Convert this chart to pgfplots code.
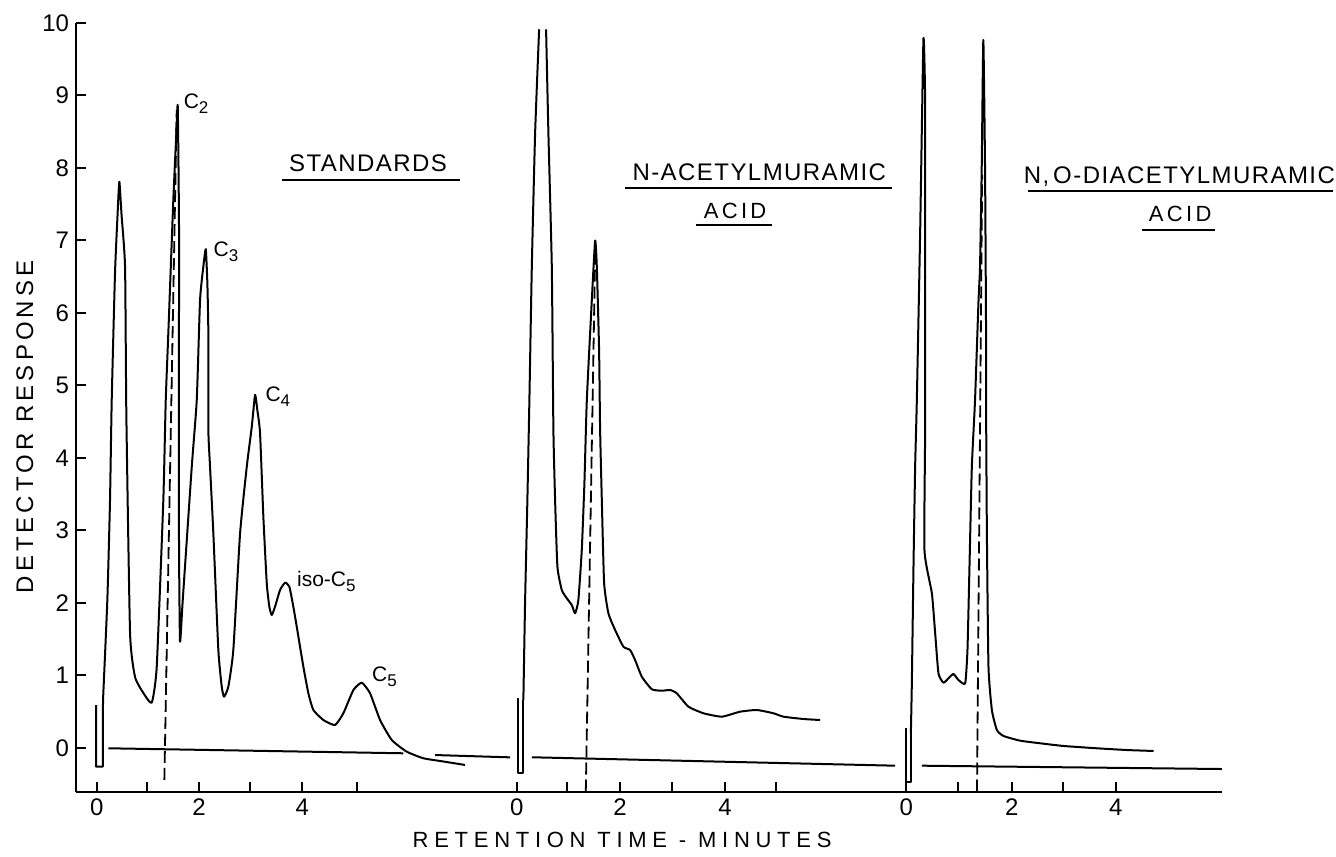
\documentclass[border=0pt]{standalone}
\usepackage{fontspec}
\setmainfont{Liberation Sans}
\newfontfamily\titlefont[LetterSpace=6]{Liberation Sans}
\newfontfamily\acidfont[LetterSpace=15]{Liberation Sans}
\newfontfamily\xlabfont[LetterSpace=26]{Liberation Sans}
\newfontfamily\ylabfont[LetterSpace=17]{Liberation Sans}
\usepackage{pgfplots}
\pgfplotsset{compat=1.18}
\newcommand{\pk}[2]{{\fontsize{10.5}{12}\selectfont #1\raisebox{-2.5pt}{\fontsize{8.5}{10}\selectfont #2}}}
\begin{document}
\begin{tikzpicture}
\begin{axis}[
  scale only axis, width=573pt, height=384.25pt,
  xmin=-0.4, xmax=21.85, ymin=-0.6, ymax=10,
  axis x line=bottom, axis y line=left,
  axis line style={-, line width=1pt},
  xtick={0,0.971,1.986,2.977,3.992,5.049, 8.157,9.138,10.161,11.177,12.200,13.190, 15.715,16.730,17.767,18.757,19.786},
  xticklabels={0,,2,,4,, 0,,2,,4,, 0,,2,,4},
  ytick={0,1,2,3,4,5,6,7,8,9,10},
  tick align=inside, major tick length=5pt,
  tick style={line width=1pt, black},
  /pgf/number format/assume math mode=true,
  ticklabel style={font=\fontsize{12}{14}\selectfont},
  clip=false, unbounded coords=jump,
  trace/.style={black, line width=1pt, line join=round, smooth, tension=0.3},
]
% baselines
\addplot[black, line width=1pt] coordinates {(0.225,-0.004) (5.953,-0.073)};
\addplot[black, line width=1pt] coordinates {(6.569,-0.097) (8.025,-0.129)};
\addplot[black, line width=1pt] coordinates {(8.447,-0.128) (15.501,-0.244)};
\addplot[black, line width=1pt] coordinates {(16.019,-0.244) (21.845,-0.290)};
% dashed marker lines
\addplot[black, line width=0.9pt, dash pattern=on 6pt off 2.5pt] coordinates {(1.313,-0.441) (1.553,8.80)};
\addplot[black, line width=0.9pt, dash pattern=on 6pt off 2.5pt] coordinates {(9.495,-0.600) (9.676,6.777)};
\addplot[black, line width=0.9pt, dash pattern=on 6pt off 2.5pt] coordinates {(17.090,-0.600) (17.190,7.900)};
% standards: injection spike, then trace
\addplot[black, line width=1pt, line join=round] coordinates {(-0.014,0.593) (-0.014,-0.258) (0.117,-0.258) (0.122,0.662)};
\addplot[trace] table {
x y
0.122 0.662
0.206 2.041
0.258 3.421
0.291 4.800
0.355 6.552
0.404 7.352
0.439 7.811
0.482 7.352
0.550 6.634
0.575 4.593
0.647 1.586
0.744 0.979
0.905 0.759
1.068 0.625
1.165 1.121
1.293 3.421
1.340 4.800
1.390 5.720
1.487 7.559
1.540 8.390
1.573 8.855
1.598 7.103
1.594 4.386
1.598 2.731
1.617 1.466
1.670 2.041
1.845 3.880
1.942 4.800
2.006 6.180
2.070 6.640
2.117 6.880
2.148 6.410
2.167 5.720
2.167 4.386
2.200 3.880
2.264 2.961
2.361 1.352
2.427 0.846
2.472 0.708
2.555 0.846
2.652 1.352
2.783 2.961
2.913 3.880
3.010 4.430
3.074 4.869
3.118 4.662
3.171 4.340
3.235 3.190
3.301 2.272
3.351 1.949
3.398 1.834
3.462 1.949
3.559 2.179
3.656 2.280
3.740 2.225
3.817 1.949
3.883 1.673
4.012 1.121
4.109 0.754
4.206 0.524
4.400 0.386
4.627 0.317
4.788 0.479
4.983 0.800
5.146 0.901
5.307 0.754
5.501 0.386
5.728 0.110
6.019 -0.051
6.342 -0.142
6.666 -0.179
7.151 -0.234
};
% N-acetylmuramic acid
\addplot[black, line width=1pt, line join=round] coordinates {(8.186,0.686) (8.186,-0.349) (8.283,-0.349) (8.283,0.662)};
\addplot[trace] table {
x y
8.283 0.662
8.317 2.041
8.361 3.421
8.400 4.800
8.447 6.639
8.511 8.479
8.589 9.913
};
\addplot[trace] table {
x y
8.724 9.913
8.769 8.479
8.835 6.639
8.866 4.386
8.899 3.421
8.944 2.501
9.029 2.179
9.126 2.065
9.223 1.972
9.287 1.858
9.351 2.041
9.417 2.731
9.468 3.651
9.515 4.800
9.612 6.179
9.676 6.997
9.709 6.639
9.753 5.490
9.773 4.386
9.806 3.421
9.851 2.272
9.934 1.858
10.064 1.628
10.225 1.397
10.355 1.352
10.452 1.214
10.583 0.983
10.777 0.810
10.971 0.790
11.132 0.800
11.262 0.754
11.487 0.570
11.779 0.479
12.136 0.432
12.491 0.501
12.816 0.524
13.138 0.479
13.332 0.432
13.720 0.400
14.045 0.386
};
% N,O-diacetylmuramic acid
\addplot[black, line width=1pt, line join=round] coordinates {(15.715,0.272) (15.715,-0.465) (15.806,-0.465) (15.806,0.203)};
\addplot[trace] table {
x y
15.806 0.203
15.825 0.892
15.857 2.501
15.889 3.880
15.922 4.800
15.986 7.099
16.050 9.775
16.083 8.938
16.083 6.639
16.083 4.386
16.070 2.731
16.214 2.134
16.278 1.582
16.342 1.030
16.439 0.901
16.536 0.961
16.633 1.021
16.730 0.938
16.860 0.892
16.905 1.352
16.944 2.501
16.990 3.880
17.052 4.800
17.120 6.179
17.149 6.639
17.182 8.018
17.213 9.766
17.246 8.018
17.266 5.720
17.266 4.800
17.282 2.961
17.313 1.121
17.379 0.524
17.476 0.248
17.604 0.166
17.928 0.101
18.317 0.065
18.769 0.028
19.417 -0.004
20.000 -0.028
20.517 -0.041
};
% peak labels
\node[anchor=base west, inner sep=0pt] at (axis cs:1.682,8.823) {\pk{C}{2}};
\node[anchor=base west, inner sep=0pt] at (axis cs:2.264,6.777) {\pk{C}{3}};
\node[anchor=base west, inner sep=0pt] at (axis cs:3.270,4.777) {\pk{C}{4}};
\node[anchor=base west, inner sep=0pt] at (axis cs:3.883,2.225) {\pk{iso-C}{5}};
\node[anchor=base west, inner sep=0pt] at (axis cs:5.340,0.915) {\pk{C}{5}};
% titles
\node[anchor=base, inner sep=0pt] at (axis cs:5.268,7.949) {\fontsize{12}{14}\titlefont STANDARDS};
\draw[line width=1pt] (axis cs:3.592,7.834) -- (axis cs:7.054,7.834);
\node[anchor=base, inner sep=0pt] at (axis cs:12.864,7.834) {\fontsize{12}{14}\titlefont N-ACETYLMURAMIC};
\draw[line width=1pt] (axis cs:10.258,7.720) -- (axis cs:15.437,7.720);
\node[anchor=base, inner sep=0pt] at (axis cs:12.394,7.306) {\fontsize{11}{13}\acidfont ACID};
\draw[line width=1pt] (axis cs:11.637,7.214) -- (axis cs:13.107,7.214);
\node[anchor=base, inner sep=0pt] at (axis cs:21.019,7.789) {\fontsize{12}{14}\titlefont N,\,O-DIACETYLMURAMIC};
\draw[line width=1pt] (axis cs:18.083,7.687) -- (axis cs:24.000,7.687);
\node[anchor=base, inner sep=0pt] at (axis cs:21.035,7.259) {\fontsize{11}{13}\acidfont ACID};
\draw[line width=1pt] (axis cs:20.291,7.145) -- (axis cs:21.715,7.145);
% axis labels
\node[anchor=base, inner sep=0pt] at (axis cs:10.200,-1.379) {\fontsize{11}{13}\xlabfont RETENTION TIME - MINUTES};
\node[anchor=base, rotate=90, inner sep=0pt] at (axis cs:-1.237,4.428) {\fontsize{12}{14}\ylabfont DETECTOR RESPONSE};
% frame of the whole picture
\path (axis cs:-1.878,-1.490) rectangle (axis cs:24.060,10.317);
\end{axis}
\end{tikzpicture}
\end{document}
